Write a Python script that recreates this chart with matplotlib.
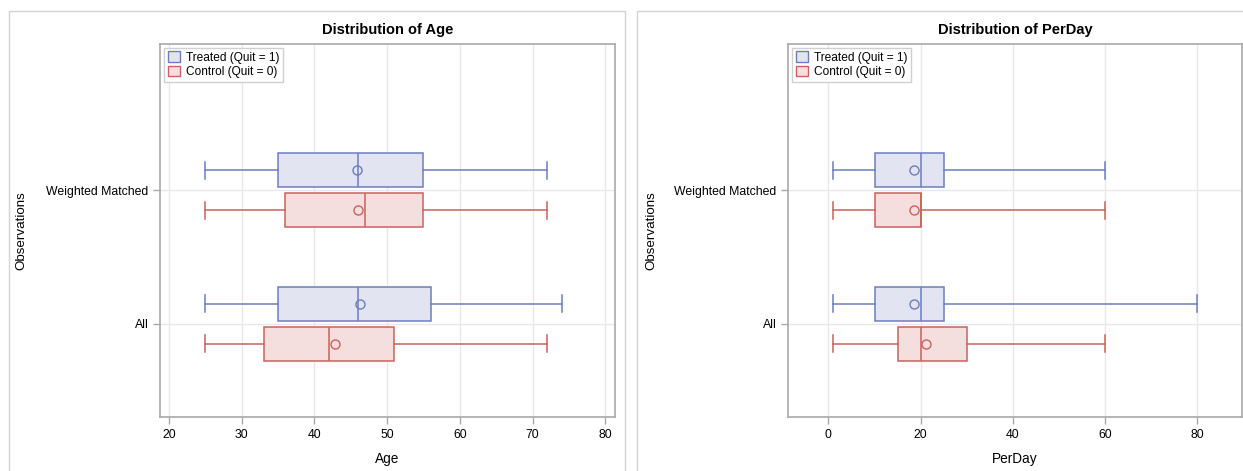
import matplotlib
matplotlib.use("Agg")
import matplotlib.pyplot as plt
from matplotlib.patches import Patch, Rectangle

plt.rcParams['font.family'] = ['Liberation Sans', 'DejaVu Sans']

# groups on the y axis (bottom to top)
groups = ["All", "Weighted Matched"]

# box stats per group: [whislo, q1, median, q3, whishi, mean]
age_treated = [[25, 35, 46, 56, 74, 46.2], [25, 35, 46, 55, 72, 45.8]]
age_control = [[25, 33, 42, 51, 72, 42.8], [25, 36, 47, 55, 72, 46.0]]
perday_treated = [[1, 10, 20, 25, 80, 18.6], [1, 10, 20, 25, 60, 18.6]]
perday_control = [[1, 15, 20, 30, 60, 21.2], [1, 10, 20, 20, 60, 18.6]]

BLUE_EDGE = "#6C7DBE"
BLUE_FILL = "#E2E5F1"
RED_EDGE = "#C9625C"
RED_FILL = "#F5DEDE"
GRID = "#E8E8E8"
SPINE = "#A9A9A9"


def make_stats(rows):
    out = []
    for lo, q1, med, q3, hi, mean in rows:
        out.append(dict(whislo=lo, q1=q1, med=med, q3=q3, whishi=hi,
                        mean=mean, fliers=[]))
    return out


def draw_panel(ax, treated, control, title, xlabel, xlim, xticks, ylab_x):
    ax.set_xlim(*xlim)
    ax.set_ylim(-0.70, 2.10)
    ax.set_xticks(xticks)
    ax.set_yticks(range(len(groups)))
    ax.set_yticklabels(groups)
    ax.grid(True, color=GRID, linewidth=1)
    ax.set_axisbelow(True)

    for rows, off, edge, fill in [(treated, 0.15, BLUE_EDGE, BLUE_FILL),
                                  (control, -0.15, RED_EDGE, RED_FILL)]:
        pos = [i + off for i in range(len(groups))]
        ax.bxp(make_stats(rows), positions=pos, widths=0.255,
               orientation='horizontal', patch_artist=True, showmeans=True,
               showfliers=False, capwidths=0.125, manage_ticks=False,
               boxprops=dict(facecolor=fill, edgecolor=edge, linewidth=1.1),
               medianprops=dict(color=edge, linewidth=1.1),
               whiskerprops=dict(color=edge, linewidth=1.1),
               capprops=dict(color=edge, linewidth=1.1),
               meanprops=dict(marker='o', markerfacecolor='none',
                              markeredgecolor=edge, markersize=6.5,
                              markeredgewidth=1.0))

    for s in ax.spines.values():
        s.set_color(SPINE)
        s.set_linewidth(1.2)
    ax.tick_params(colors=SPINE, labelcolor="black", labelsize=8.8,
                   length=5, width=1)
    ax.set_title(title, fontsize=10.5, fontweight="bold", pad=7)
    ax.set_xlabel(xlabel, fontsize=9.8, labelpad=8)
    ax.set_ylabel("Observations", fontsize=9.6)
    ax.yaxis.set_label_coords(ylab_x, 0.5)

    handles = [Patch(facecolor=BLUE_FILL, edgecolor=BLUE_EDGE, label="Treated (Quit = 1)"),
               Patch(facecolor=RED_FILL, edgecolor=RED_EDGE, label="Control (Quit = 0)")]
    leg = ax.legend(handles=handles, loc="upper left", fontsize=8.6,
                    fancybox=False, edgecolor="#D0D0D0", framealpha=1,
                    handlelength=1.0, handleheight=1.0, handletextpad=0.5,
                    borderpad=0.3, labelspacing=0.15, borderaxespad=0.35)
    leg.get_frame().set_linewidth(1)


fig = plt.figure(figsize=(12.43, 4.71), dpi=100)

# panel frames
fig.patches.append(Rectangle((9 / 1243, -0.1), 616 / 1243, 1.1 - 11 / 471,
                             transform=fig.transFigure, fill=False,
                             edgecolor="#D3D3D3", linewidth=1))
fig.patches.append(Rectangle((637 / 1243, -0.1), 0.6, 1.1 - 11 / 471,
                             transform=fig.transFigure, fill=False,
                             edgecolor="#D3D3D3", linewidth=1))

ax1 = fig.add_axes([160.3 / 1243, 54 / 471, 454.4 / 1243, 373.3 / 471])
ax2 = fig.add_axes([788.3 / 1243, 54 / 471, 453.7 / 1243, 373.3 / 471])

draw_panel(ax1, age_treated, age_control, "Distribution of Age", "Age",
           (18.8, 81.3), [20, 30, 40, 50, 60, 70, 80], (27 - 160.3) / 454.4)
draw_panel(ax2, perday_treated, perday_control, "Distribution of PerDay", "PerDay",
           (-8.7, 89.7), [0, 20, 40, 60, 80], (657 - 788.3) / 453.7)

fig.savefig("out.png", dpi=100)
